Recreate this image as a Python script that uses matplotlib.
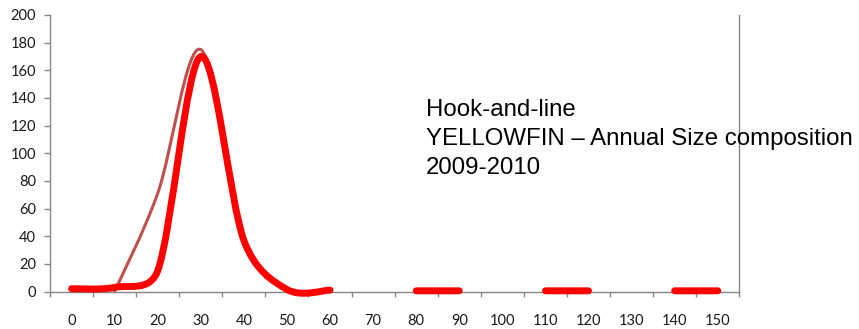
import numpy as np
import matplotlib
matplotlib.use("Agg")
import matplotlib.pyplot as plt
from matplotlib.path import Path
from matplotlib.patches import PathPatch

# Size classes (cm) and annual size composition for the two years
lengths = [0, 10, 20, 30, 40, 50, 60, 70, 80, 90, 100, 110, 120, 130, 140, 150]
tick_labels = [str(v) for v in lengths]
yf_2010 = [2, 3, 15, 170, 37, 1.5, 1, None, 0.5, 0.5, None, 0.5, 0.5, None, 0.5, 0.5]
yf_2009 = [None, 0, 71, 175, 37, 1.5, 1, None, None, None, None, None, None, None, None, None]
y_ticks = list(range(0, 201, 20))

title_lines = ["Hook-and-line", "YELLOWFIN \u2013 Annual Size composition", "2009-2010"]

AXIS_GREY = "#868686"


def smoothed_path(ax, xs, ys):
    """Bezier-smoothed polyline (spreadsheet style), broken at missing values."""
    runs, cur = [], []
    for x, y in zip(xs, ys):
        if y is None:
            if cur:
                runs.append(cur)
            cur = []
        else:
            cur.append((x, y))
    if cur:
        runs.append(cur)

    to_disp = ax.transData
    to_data = ax.transData.inverted()
    verts, codes = [], []
    for run in runs:
        pts = to_disp.transform(np.array(run, dtype=float))
        n = len(pts)
        seg = [pts[0]]
        seg_codes = [Path.MOVETO]
        for i in range(n - 1):
            p0 = pts[i - 1] if i > 0 else pts[i]
            p1 = pts[i]
            p2 = pts[i + 1]
            p3 = pts[i + 2] if i + 2 < n else pts[i + 1]
            d12 = np.hypot(*(p2 - p1))
            t1 = (p2 - p0) / 6.0
            t2 = (p3 - p1) / 6.0
            for t in (t1, t2):
                L = np.hypot(*t)
                if L > d12 / 2 and L > 0:
                    t *= (d12 / 2) / L
            seg += [p1 + t1, p2 - t2, p2]
            seg_codes += [Path.CURVE4] * 3
        verts += list(to_data.transform(np.array(seg)))
        codes += seg_codes
    return Path(np.array(verts), codes)


fig = plt.figure(figsize=(8.59, 3.29), dpi=100)
ax = fig.add_axes([50 / 859, (329 - 291.5) / 329, (739.3 - 50) / 859, (291.5 - 15) / 329])
ax.set_xlim(-5, 155)
ax.set_ylim(0, 200)

# axes frame
ax.spines["top"].set_visible(False)
for side in ("left", "bottom", "right"):
    ax.spines[side].set_color(AXIS_GREY)
    ax.spines[side].set_linewidth(1.0)

ax.set_yticks(y_ticks)
ax.set_yticklabels([str(v) for v in y_ticks])
ax.tick_params(axis="y", direction="out", length=4, width=1, color=AXIS_GREY,
               labelsize=10.5, pad=6, labelcolor="#1a1a1a")

ax.set_xticks(lengths)
ax.set_xticklabels(tick_labels)
ax.set_xticks([v - 5 for v in lengths] + [155], minor=True)
ax.tick_params(axis="x", which="major", length=0, labelsize=10.5, pad=16,
               labelcolor="#1a1a1a")
ax.tick_params(axis="x", which="minor", direction="out", length=3.5, width=1,
               color=AXIS_GREY)

for lbl in ax.get_xticklabels() + ax.get_yticklabels():
    lbl.set_fontfamily("Lato")

# series lines
p09 = smoothed_path(ax, lengths, yf_2009)
ax.add_patch(PathPatch(p09, fill=False, edgecolor="#C0504D", linewidth=2.2,
                       capstyle="round", joinstyle="round", zorder=2, clip_on=False))
p10 = smoothed_path(ax, lengths, yf_2010)
ax.add_patch(PathPatch(p10, fill=False, edgecolor="#FF0000", linewidth=5.0,
                       capstyle="round", joinstyle="round", zorder=3, clip_on=False))

# chart caption
for k, line in enumerate(title_lines):
    fig.text(426 / 859, 1 - (116 + 29 * k) / 329, line, fontsize=17.3,
             family="Liberation Sans", color="black", va="baseline", ha="left")

fig.savefig("out.png", dpi=100)
